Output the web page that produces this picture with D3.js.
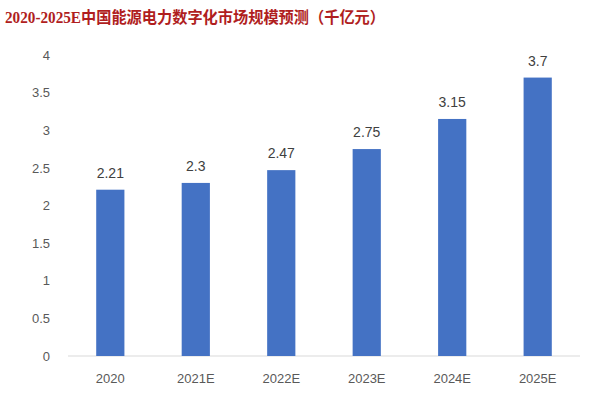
<!DOCTYPE html>
<html><head><meta charset="utf-8">
<script src="https://cdn.jsdelivr.net/npm/d3@7"></script>
<style>body{margin:0;background:#fff}</style></head>
<body><svg id="c" width="600" height="400"></svg>
<script>
const categories = ["2020","2021E","2022E","2023E","2024E","2025E"];
const values = [2.21,2.3,2.47,2.75,3.15,3.7];
const yTicks = [0,0.5,1,1.5,2,2.5,3,3.5,4];
const title = "2020-2025E中国能源电力数字化市场规模预测（千亿元）";

const svg = d3.select("#c");
svg.append("rect").attr("width",600).attr("height",400).attr("fill","#fff");
svg.append("text").attr("x",5).attr("y",23).text(title)
  .attr("font-family","'Liberation Serif','Noto Sans CJK SC'").attr("font-weight","bold")
  .attr("font-size",16).attr("fill","#b01e1e")
  .attr("textLength",380).attr("lengthAdjust","spacingAndGlyphs");

const x = d3.scaleBand().domain(categories).range([68,580]).paddingInner(0.67).paddingOuter(0.33);
const y = d3.scaleLinear().domain([0,4]).range([356,55]);
const font = "'Liberation Sans', Arial, sans-serif";

svg.append("line").attr("x1",68).attr("x2",580).attr("y1",y(0)).attr("y2",y(0)).attr("stroke","#d9d9d9");

const ya = svg.append("g").attr("transform","translate(58,0)")
  .call(d3.axisLeft(y).tickValues(yTicks).tickSize(0).tickPadding(0).tickFormat(d3.format("")));
ya.select(".domain").remove();
ya.selectAll("text").attr("font-family",font).attr("font-size",13).attr("fill","#595959").attr("text-anchor","end").attr("x",-8);

const xa = svg.append("g").attr("transform",`translate(0,${y(0)})`)
  .call(d3.axisBottom(x).tickSize(0).tickPadding(18));
xa.select(".domain").remove();
xa.selectAll("text").attr("font-family",font).attr("font-size",13).attr("fill","#595959");

svg.selectAll(".bar").data(values).join("rect")
  .attr("x",(d,i)=>x(categories[i])).attr("width",x.bandwidth())
  .attr("y",d=>y(d)).attr("height",d=>y(0)-y(d)).attr("fill","#4472c4");

svg.selectAll(".lbl").data(values).join("text")
  .attr("x",(d,i)=>x(categories[i])+x.bandwidth()/2).attr("y",d=>y(d)-12)
  .attr("text-anchor","middle").attr("font-family",font).attr("font-size",14)
  .attr("fill","#404040").text(d=>d);
</script></body></html>
